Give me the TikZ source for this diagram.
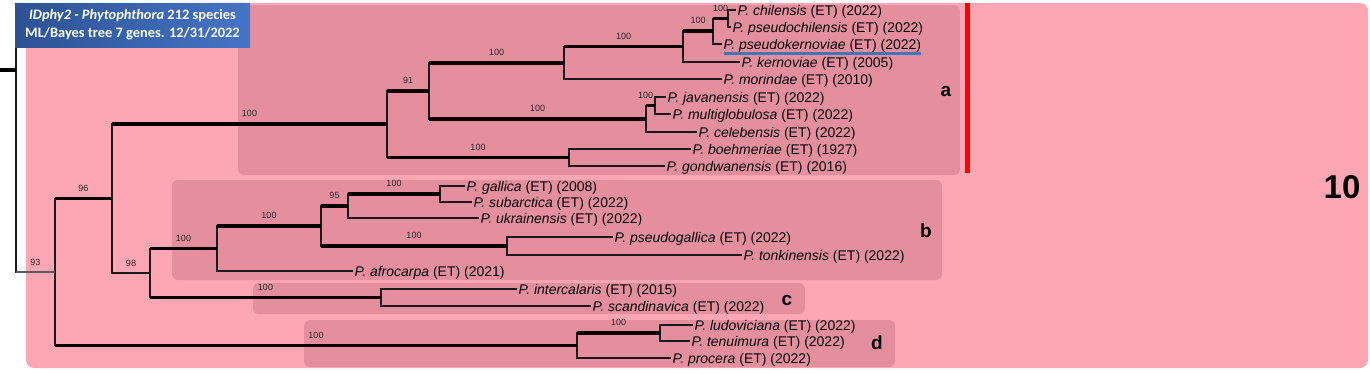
\documentclass[tikz,border=0pt]{standalone}
\usepackage{fontspec}
\setmainfont{Liberation Sans}
\newfontfamily\titlefont{Carlito}
\definecolor{outerpink}{RGB}{255,166,180}
\definecolor{cladepink}{RGB}{229,143,158}
\definecolor{titleL}{RGB}{44,82,148}
\definecolor{titleR}{RGB}{70,116,198}
\definecolor{ulblue}{RGB}{66,116,184}
\tikzset{
  thin branch/.style={line width=1.2pt, draw=black!90},
  thick branch/.style={line width=3.3pt, draw=black},
  vline/.style={line width=1.2pt, draw=black!90, line cap=rect},
  tip/.style={anchor=west, inner xsep=1.5pt, inner ysep=0pt, text height=10pt, text depth=0pt, font=\fontsize{14}{16}\selectfont},
  bs/.style={font=\fontsize{9}{10}\selectfont, inner sep=0pt, text=black!85, above=5.5pt},
  cladebox/.style={fill=cladepink, rounded corners=6pt},
  cladelab/.style={font=\fontsize{19}{22}\selectfont\bfseries, inner sep=0pt},
  titlebox/.style={left color=titleL, right color=titleR, text=white, align=center, inner sep=0pt,
    font=\titlefont\fontsize{14.4}{18}\selectfont\bfseries},
}
\begin{document}
\begin{tikzpicture}[x=1pt,y=-1pt]
\useasboundingbox (0,0) rectangle (1370,373);
\fill[white] (0,0) rectangle (1370,373);
% background panels
\fill[outerpink, rounded corners=8pt] (26,3) rectangle (1368,368);
\fill[cladebox] (238,5) rectangle (960,175);
\fill[cladebox] (172,180) rectangle (942,280);
\fill[cladebox] (253,283) rectangle (805,314);
\fill[cladebox] (304,320) rectangle (895,367);
\fill[red] (965,3) rectangle (970,173);

% internal nodes
\coordinate (rootin) at (0,70);
\coordinate (roottop) at (16,4);
\coordinate (nR) at (16,70);
\coordinate (n93) at (55,272);
\coordinate (n96) at (112,198.5);
\coordinate (n98) at (150,273);
\coordinate (na0) at (387,124);
\coordinate (na1) at (429,91);
\coordinate (na2) at (564,63);
\coordinate (na3) at (683,46.5);
\coordinate (na3b) at (713,31);
\coordinate (na3c) at (728,18.5);
\coordinate (na4) at (646,119);
\coordinate (na4b) at (655,105.5);
\coordinate (na5) at (569,157.5);
\coordinate (nb) at (217,248.5);
\coordinate (nb1) at (321,226);
\coordinate (nb2) at (348,206);
\coordinate (nb3) at (507,246);
\coordinate (nb4) at (440,194);
\coordinate (nc) at (381,297.5);
\coordinate (nd) at (577,345.5);
\coordinate (nd1) at (660,333);

% tips
\node[tip] (chil)   at (736,10)  {\textit{P. chilensis} (ET) (2022)};
\node[tip] (pchil)  at (731,27)  {\textit{P. pseudochilensis} (ET) (2022)};
\node[tip] (pkern)  at (722,44)  {\textit{P. pseudokernoviae} (ET) (2022)};
\node[tip] (kern)   at (740,62)  {\textit{P. kernoviae} (ET) (2005)};
\node[tip] (morin)  at (722,79)  {\textit{P. morindae} (ET) (2010)};
\node[tip] (java)   at (666,97)  {\textit{P. javanensis} (ET) (2022)};
\node[tip] (multi)  at (671,114) {\textit{P. multiglobulosa} (ET) (2022)};
\node[tip] (celeb)  at (697,132) {\textit{P. celebensis} (ET) (2022)};
\node[tip] (boeh)   at (691,149) {\textit{P. boehmeriae} (ET) (1927)};
\node[tip] (gond)   at (665,166) {\textit{P. gondwanensis} (ET) (2016)};
\node[tip] (gall)   at (465,186) {\textit{P. gallica} (ET) (2008)};
\node[tip] (subarc) at (472,202) {\textit{P. subarctica} (ET) (2022)};
\node[tip] (ukr)    at (479,218) {\textit{P. ukrainensis} (ET) (2022)};
\node[tip] (pgall)  at (613,237) {\textit{P. pseudogallica} (ET) (2022)};
\node[tip] (tonk)   at (742,255) {\textit{P. tonkinensis} (ET) (2022)};
\node[tip] (afro)   at (353,271) {\textit{P. afrocarpa} (ET) (2021)};
\node[tip] (inter)  at (517,289) {\textit{P. intercalaris} (ET) (2015)};
\node[tip] (scand)  at (591,306) {\textit{P. scandinavica} (ET) (2022)};
\node[tip] (ludo)   at (693,325) {\textit{P. ludoviciana} (ET) (2022)};
\node[tip] (tenui)  at (690,341) {\textit{P. tenuimura} (ET) (2022)};
\node[tip] (proc)   at (671,358) {\textit{P. procera} (ET) (2022)};

\draw[ulblue, line width=3pt] ([xshift=1.5pt,yshift=-4pt]pkern.south west) -- ([xshift=-1.5pt,yshift=-4pt]pkern.south east);

% vertical lines
\draw[vline] (roottop) -- (nR |- n93);
\draw[vline] (n93 |- n96) -- (n93 |- nd);
\draw[vline] (n96 |- na0) -- (n96 |- n98);
\draw[vline] (n98 |- nb) -- (n98 |- nc);
\draw[vline] (na0 |- na1) -- (na0 |- na5);
\draw[vline] (na1 |- na2) -- (na1 |- na4);
\draw[vline] (na2 |- na3) -- (na2 |- morin.west);
\draw[vline] (na3 |- na3b) -- (na3 |- kern.west);
\draw[vline] (na3b |- na3c) -- (na3b |- pkern.west);
\draw[vline] (na3c |- chil.west) -- (na3c |- pchil.west);
\draw[vline] (na4 |- na4b) -- (na4 |- celeb.west);
\draw[vline] (na4b |- java.west) -- (na4b |- multi.west);
\draw[vline] (na5 |- boeh.west) -- (na5 |- gond.west);
\draw[vline] (nb |- nb1) -- (nb |- afro.west);
\draw[vline] (nb1 |- nb2) -- (nb1 |- nb3);
\draw[vline] (nb2 |- nb4) -- (nb2 |- ukr.west);
\draw[vline] (nb4 |- gall.west) -- (nb4 |- subarc.west);
\draw[vline] (nb3 |- pgall.west) -- (nb3 |- tonk.west);
\draw[vline] (nc |- inter.west) -- (nc |- scand.west);
\draw[vline] (nd |- nd1) -- (nd |- proc.west);
\draw[vline] (nd1 |- ludo.west) -- (nd1 |- tenui.west);

% internal branches
\draw[thick branch] (rootin) -- (nR);
\draw[thin branch, draw=black!65] (nR |- n93) -- node[bs]{93} (n93);
\draw[thick branch] (n93 |- n96) -- node[bs]{96} (n96);
\draw[thick branch] (n93 |- nd) -- node[bs]{100} (nd);
\draw[thick branch] (n96 |- na0) -- node[bs]{100} (na0);
\draw[thin branch] (n96 |- n98) -- node[bs]{98} (n98);
\draw[thick branch] (n98 |- nb) -- node[bs]{100} (nb);
\draw[thick branch] (n98 |- nc) -- node[bs]{100} (nc);
\draw[thick branch] (na0 |- na1) -- node[bs]{91} (na1);
\draw[thick branch] (na0 |- na5) -- node[bs]{100} (na5);
\draw[thick branch] (na1 |- na2) -- node[bs]{100} (na2);
\draw[thick branch] (na1 |- na4) -- node[bs]{100} (na4);
\draw[thick branch] (na2 |- na3) -- node[bs]{100} (na3);
\draw[thick branch] (na3 |- na3b) -- node[bs]{100} (na3b);
\draw[thick branch] (na3b |- na3c) -- node[bs]{100} (na3c);
\draw[thick branch] (na4 |- na4b) -- node[bs, xshift=-5pt]{100} (na4b);
\draw[thick branch] (nb |- nb1) -- node[bs]{100} (nb1);
\draw[thick branch] (nb1 |- nb2) -- node[bs]{95} (nb2);
\draw[thick branch] (nb1 |- nb3) -- node[bs]{100} (nb3);
\draw[thick branch] (nb2 |- nb4) -- node[bs]{100} (nb4);
\draw[thick branch] (nd |- nd1) -- node[bs]{100} (nd1);

% tip branches
\draw[thin branch] (na3c |- chil.west) -- (chil.west);
\draw[thin branch] (na3c |- pchil.west) -- (pchil.west);
\draw[thin branch] (na3b |- pkern.west) -- (pkern.west);
\draw[thin branch] (na3 |- kern.west) -- (kern.west);
\draw[thin branch] (na2 |- morin.west) -- (morin.west);
\draw[thin branch] (na4b |- java.west) -- (java.west);
\draw[thin branch] (na4b |- multi.west) -- (multi.west);
\draw[thin branch] (na4 |- celeb.west) -- (celeb.west);
\draw[thin branch] (na5 |- boeh.west) -- (boeh.west);
\draw[thin branch] (na5 |- gond.west) -- (gond.west);
\draw[thin branch] (nb4 |- gall.west) -- (gall.west);
\draw[thin branch] (nb4 |- subarc.west) -- (subarc.west);
\draw[thin branch] (nb2 |- ukr.west) -- (ukr.west);
\draw[thin branch] (nb3 |- pgall.west) -- (pgall.west);
\draw[thin branch] (nb3 |- tonk.west) -- (tonk.west);
\draw[thin branch] (nb |- afro.west) -- (afro.west);
\draw[thin branch] (nc |- inter.west) -- (inter.west);
\draw[thin branch] (nc |- scand.west) -- (scand.west);
\draw[thin branch] (nd1 |- ludo.west) -- (ludo.west);
\draw[thin branch] (nd1 |- tenui.west) -- (tenui.west);
\draw[thin branch] (nd |- proc.west) -- (proc.west);

% clade labels
\node[cladelab] (la) at (946,91) {a};
\node[cladelab] (lb) at (926,231) {b};
\node[cladelab] (lc) at (787,300) {c};
\node[cladelab] (ld) at (877,343) {d};
\node[font=\fontsize{33}{36}\selectfont\bfseries, inner sep=0pt] (ten) at (1342,187) {10};

% title
\node[titlebox, minimum width=235pt, minimum height=44pt] (title) at (132.5,25)
  {\textit{IDphy2 - Phytophthora} 212 species\\ML/Bayes tree 7 genes. 12/31/2022};
\end{tikzpicture}
\end{document}
